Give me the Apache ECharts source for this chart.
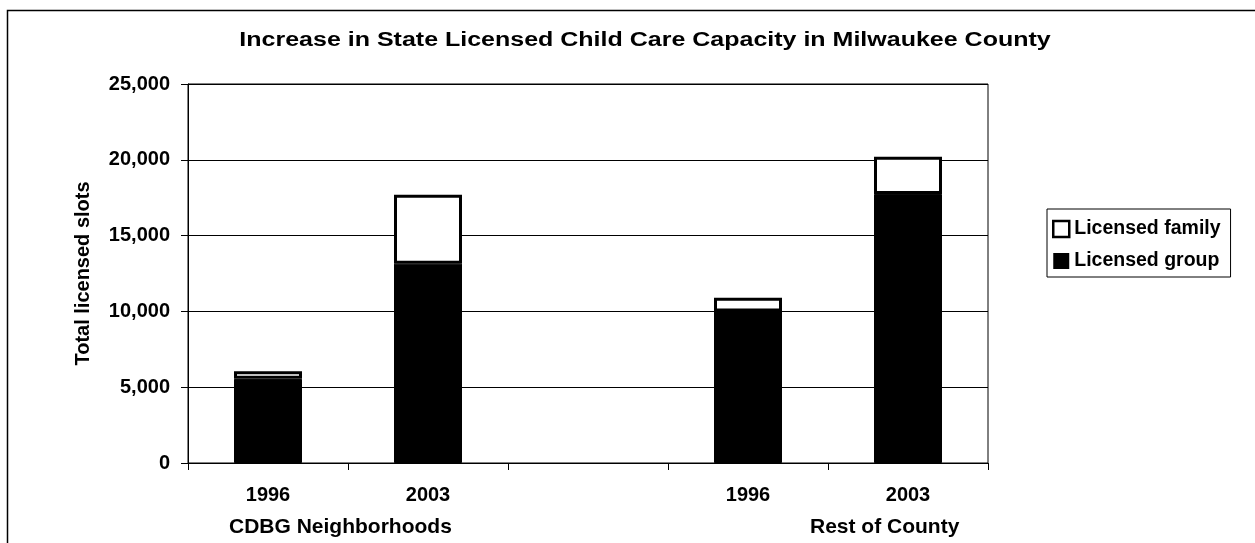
<!DOCTYPE html>
<html>
<head>
<meta charset="utf-8">
<script src="https://cdn.jsdelivr.net/npm/echarts@6/dist/echarts.min.js"></script>
<style>
html,body{margin:0;padding:0;background:#fff;}
#chart{width:1255px;height:543px;}
</style>
</head>
<body>
<div id="chart"></div>
<script>
var categories = ['1996', '2003', '', '1996', '2003'];
var groupNames = ['CDBG Neighborhoods', 'Rest of County'];
var licensedGroup = [5550, 13150, null, 10000, 17750];
var licensedFamily = [500, 4550, null, 900, 2450];
var titleText = 'Increase in State Licensed Child Care Capacity in Milwaukee County';
var yAxisName = 'Total licensed slots';

var FONT = '"Liberation Sans", Arial, sans-serif';
var chart = echarts.init(document.getElementById('chart'), null, {renderer: 'canvas'});

var option = {
  backgroundColor: '#fff',
  animation: false,
  grid: {
    left: 188, top: 84, width: 800, height: 379,
    show: true, borderColor: '#000', borderWidth: 1, backgroundColor: 'transparent',
    containLabel: false
  },
  legend: {
    orient: 'vertical',
    left: 1047, top: 209,
    padding: [10, 10, 6, 5],
    itemGap: 12,
    itemWidth: 16, itemHeight: 16,
    borderColor: '#000', borderWidth: 1,
    textStyle: {fontFamily: FONT, fontWeight: 'bold', fontSize: 19.5, color: '#000'},
    data: [
      {name: 'Licensed family', icon: 'rect', itemStyle: {color: '#fff', borderColor: '#000', borderWidth: 2.5}},
      {name: 'Licensed group', icon: 'rect', itemStyle: {color: '#000', borderColor: '#000', borderWidth: 0}}
    ]
  },
  xAxis: {
    type: 'category',
    data: categories,
    axisLine: {lineStyle: {color: '#000', width: 1}},
    axisTick: {show: true, interval: 0, length: 7, lineStyle: {color: '#000', width: 1}},
    axisLabel: {interval: 0, margin: 22, fontFamily: FONT, fontWeight: 'bold', fontSize: 20, color: '#000'},
    splitLine: {show: false}
  },
  yAxis: {
    type: 'value',
    min: 0, max: 25000, interval: 5000,
    name: yAxisName,
    nameLocation: 'middle',
    nameGap: 95,
    nameTextStyle: {fontFamily: FONT, fontWeight: 'bold', fontSize: 20, color: '#000'},
    axisLine: {show: true, lineStyle: {color: '#000', width: 1}},
    axisTick: {show: true, length: 7, lineStyle: {color: '#000', width: 1}},
    axisLabel: {
      margin: 18, fontFamily: FONT, fontWeight: 'bold', fontSize: 20, color: '#000',
      formatter: function (v) { return v.toLocaleString('en-US'); }
    },
    splitLine: {show: true, lineStyle: {color: '#000', width: 1}}
  },
  graphic: [
    {type: 'rect', silent: true, shape: {x: 7.5, y: 10.5, width: 1400, height: 700},
     style: {fill: 'none', stroke: '#000', lineWidth: 1.5}},
    {type: 'text', silent: true, x: 645, y: 40, scaleX: 1.25, scaleY: 1,
     style: {text: titleText, font: 'bold 20px ' + FONT, fill: '#000',
             textAlign: 'center', textVerticalAlign: 'middle', align: 'center', verticalAlign: 'middle'}},
    {type: 'text', left: 229, top: 517, style: {text: groupNames[0], font: 'bold 21px ' + FONT, fill: '#000'}},
    {type: 'text', left: 810, top: 517, style: {text: groupNames[1], font: 'bold 21px ' + FONT, fill: '#000'}}
  ],
  series: [
    {
      name: 'Licensed group', type: 'bar', stack: 'total', barWidth: 68,
      data: licensedGroup,
      itemStyle: {color: '#000', borderColor: '#000', borderWidth: 1}
    },
    {
      name: 'Licensed family', type: 'bar', stack: 'total', barWidth: 68,
      data: licensedFamily,
      itemStyle: {color: '#fff', borderColor: '#000', borderWidth: 3}
    }
  ]
};
chart.setOption(option);
</script>
</body>
</html>
